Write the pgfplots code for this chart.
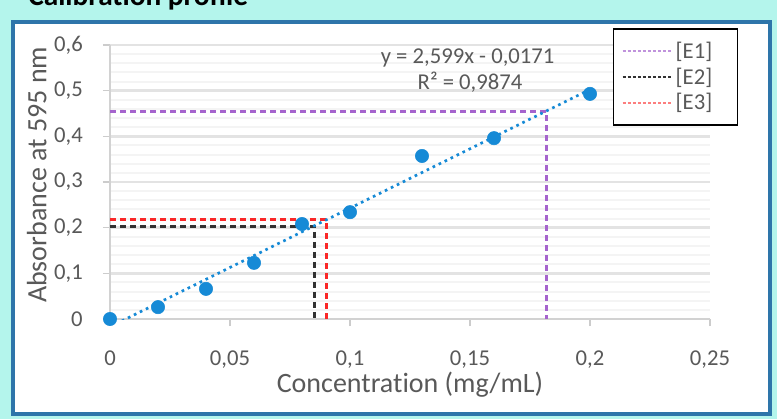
\documentclass[border=0pt]{standalone}
\usepackage{pgfplots}
\pgfplotsset{compat=1.18}
\usepackage{fontspec}
\setmainfont{Carlito}[Ligatures=NoCommon]

\definecolor{bgcyan}{RGB}{180,245,236}
\definecolor{frameblue}{RGB}{46,117,170}
\definecolor{ptblue}{RGB}{22,138,214}
\definecolor{txtgray}{RGB}{89,89,89}
\definecolor{eone}{RGB}{165,100,205}
\definecolor{etwo}{RGB}{50,50,50}
\definecolor{ethree}{RGB}{250,40,40}

\begin{document}
\begin{tikzpicture}[x=0.75pt,y=0.75pt]
\useasboundingbox (0,0) rectangle (777,419);
\fill[bgcyan] (0,0) rectangle (777,419);
% title, mostly cut off at the top
\node[anchor=base west, inner sep=0pt, font=\fontsize{22}{24}\selectfont\bfseries] at (28,413) {Calibration profile};
\filldraw[fill=white, draw=frameblue, line width=3pt] (12.5,5.5) rectangle (770,397.5);
\coordinate (O) at (110,100);

\begin{axis}[
    at={(O)}, anchor=south west,
    scale only axis,
    width=450pt, height=205.5pt,
    xmin=0, xmax=0.25,
    ymin=0, ymax=0.6,
    axis x line*=bottom, axis y line*=left,
    axis line style={draw=gray!35, line width=1.5pt},
    xtick={0,0.05,0.1,0.15,0.2,0.25},
    xticklabels={0,{0,05},{0,1},{0,15},{0,2},{0,25}},
    ytick={0,0.1,0.2,0.3,0.4,0.5,0.6},
    yticklabels={0,{0,1},{0,2},{0,3},{0,4},{0,5},{0,6}},
    tick align=outside,
    major tick length=5.25pt,
    minor tick length=0pt,
    tick style={draw=gray!40, line width=1pt},
    minor y tick num=4,
    ymajorgrids, yminorgrids,
    major grid style={draw=gray!22, line width=2pt},
    minor grid style={draw=gray!9, line width=1.5pt},
    tick label style={font=\fontsize{17}{20}\selectfont, text=txtgray, inner sep=0pt},
    xticklabel style={anchor=base, yshift=-29.6pt},
    yticklabel style={anchor=east, xshift=-15pt},
    label style={font=\fontsize{21}{24}\selectfont, text=txtgray},
    xlabel={Concentration (mg/mL)},
    ylabel={Absorbance at 595 nm},
    xlabel style={at={(axis description cs:0.5,-0.241)}, anchor=center},
    ylabel style={at={(axis description cs:-0.122,0.526)}, anchor=center},
    legend image code/.code={\draw[#1] (0pt,0pt) -- (37pt,0pt);},
    legend cell align=left,
    legend style={at={(0.838,1.062)}, anchor=north west, draw=black, line width=1.2pt,
        font=\fontsize{17}{19}\selectfont, text=txtgray, row sep=1.5pt,
        inner xsep=6pt, inner ysep=8pt},
]

% lectures of the three extracts
\addplot[eone, line width=2.2pt, dash pattern=on 4.5pt off 3pt, forget plot]
    coordinates {(0,0.455) (0.1817,0.455) (0.1817,0)};
\addplot[etwo, line width=2.2pt, dash pattern=on 4.5pt off 3pt, forget plot]
    coordinates {(0,0.202) (0.0854,0.202) (0.0854,0)};
\addplot[ethree, line width=2.2pt, dash pattern=on 4.5pt off 3pt, forget plot]
    coordinates {(0,0.217) (0.0903,0.217) (0.0903,0)};

% trendline y = 2,599x - 0,0171
\addplot[ptblue, line width=2pt, dash pattern=on 2pt off 3pt, forget plot]
    coordinates {(0,-0.0171) (0.2,0.5027)};

% standard points
\addplot[only marks, mark=*, mark size=5pt, ptblue, mark options={draw=ptblue, fill=ptblue}, forget plot]
    coordinates {
    (0,0) (0.02,0.026) (0.04,0.066) (0.06,0.123) (0.08,0.208)
    (0.1,0.234) (0.13,0.357) (0.16,0.396) (0.2,0.493)
    };

\addlegendimage{eone!70, line width=1.6pt, dash pattern=on 2.2pt off 1.6pt}
\addlegendentry{[E1]\hspace*{11pt}}
\addlegendimage{etwo, line width=1.6pt, dash pattern=on 2.2pt off 1.6pt}
\addlegendentry{[E2]\hspace*{11pt}}
\addlegendimage{ethree!60, line width=1.6pt, dash pattern=on 2.2pt off 1.6pt}
\addlegendentry{[E3]\hspace*{11pt}}

\node[font=\fontsize{17}{20}\selectfont, text=txtgray] at (axis cs:0.149,0.571) {y = 2,599x - 0,0171};
\node[font=\fontsize{17}{20}\selectfont, text=txtgray] at (axis cs:0.150,0.519) {R² = 0,9874};
\end{axis}
\end{tikzpicture}
\end{document}
